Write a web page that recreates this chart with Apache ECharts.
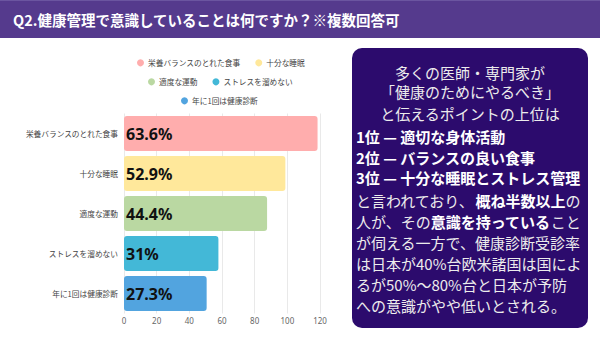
<!DOCTYPE html>
<html><head><meta charset="utf-8">
<script src="https://cdn.jsdelivr.net/npm/echarts@6/dist/echarts.min.js"></script>
<style>html,body{margin:0;padding:0;background:#fff}#c{width:600px;height:338px}</style>
</head><body><div id="c"></div>
<script>
const categories = ['栄養バランスのとれた食事','十分な睡眠','適度な運動','ストレスを溜めない','年に1回は健康診断'];
const barValues = [118.5, 98.8, 87.6, 57.8, 50.6];
const percentLabels = ['63.6%','52.9%','44.4%','31%','27.3%'];
const colors = ['#FFADAD','#FFE89B','#BAD8A2','#43B8D7','#52A4DF'];
const xTicks = [0,20,40,60,80,100,120];
const titleText = 'Q2.健康管理で意識していることは何ですか？※複数回答可';
const boxCenterLines = ['多くの医師・専門家が','「健康のためにやるべき」','と伝えるポイントの上位は'];
const boxRankLines = ['1位 — 適切な身体活動','2位 — バランスの良い食事','3位 — 十分な睡眠とストレス管理'];
const boxBodyLines = [
  [['n','と言われており、'],['b','概ね半数以上'],['n','の']],
  [['n','人が、その'],['b','意識を持っている'],['n','こと']],
  [['n','が伺える一方で、健康診断受診率']],
  [['n','は日本が40%台欧米諸国は国によ']],
  [['n','るが50%〜80%台と日本が予防']],
  [['n','への意識がやや低いとされる。']]
];

const FONT = '"Noto Sans CJK JP","Noto Sans",sans-serif';
const chart = echarts.init(document.getElementById('c'), null, {renderer:'svg'});

const series = categories.map((name,i)=>({
  name, type:'bar', stack:'t', barWidth:35,
  itemStyle:{color:colors[i], borderRadius:3},
  label:{show:true, position:'insideLeft', distance:2,
    formatter:()=>percentLabels[i],
    fontSize:16, fontWeight:'bold', color:'#111', fontFamily:'"Noto Sans",sans-serif'},
  data: categories.map((c,j)=> j===i ? barValues[i] : '-')
}));

const legendBase = {icon:'circle', itemWidth:7, itemHeight:7, itemGap:15,
  textStyle:{fontSize:7.7, color:'#444', fontFamily:FONT, padding:[0,0,0,-1]}, padding:0};

const graphics = [
  {type:'rect', shape:{x:0,y:0,width:600,height:38}, style:{fill:'#553A8D'}},
  {type:'rect', shape:{x:0,y:0,width:600,height:1}, style:{fill:'#6B55A0'}},
  {type:'text', x:13, y:19, style:{text:titleText, fill:'#fff', font:'bold 14.5px '+FONT, textVerticalAlign:'middle'}},
  {type:'rect', shape:{x:352,y:48,width:236,height:280,r:10}, style:{fill:'#2C0B6D'}}
];
const centerYs = [72, 91.5, 113];
boxCenterLines.forEach((t,i)=>graphics.push({type:'text', x:470, y:centerYs[i],
  style:{text:t, fill:'#ececec', font:'15px '+FONT, textAlign:'center', textVerticalAlign:'middle'}}));
const rankYs = [136.7, 157, 177];
boxRankLines.forEach((t,i)=>graphics.push({type:'text', x:356, y:rankYs[i],
  style:{text:t, fill:'#fff', font:'bold 15px '+FONT, textVerticalAlign:'middle'}}));
const bodyYs = [200, 221.5, 242, 263, 284, 305];
boxBodyLines.forEach((segs,i)=>{
  graphics.push({type:'text', x:356, y:bodyYs[i], style:{
    text: segs.map(s=>'{'+s[0]+'|'+s[1]+'}').join(''),
    textVerticalAlign:'middle',
    rich:{n:{fill:'#ececec', font:'15px '+FONT}, b:{fill:'#fff', font:'bold 15px '+FONT}}
  }});
});

chart.setOption({
  animation:false,
  backgroundColor:'#fff',
  legend:[
    Object.assign({}, legendBase, {data:categories.slice(0,2), left:137, top:59}),
    Object.assign({}, legendBase, {data:categories.slice(2,4), left:148, top:78}),
    Object.assign({}, legendBase, {data:categories.slice(4), left:181, top:97})
  ],
  grid:{left:124, right:280, top:113.5, bottom:24.5, containLabel:false},
  xAxis:{type:'value', min:xTicks[0], max:xTicks[xTicks.length-1], interval:20,
    axisLine:{show:false}, axisTick:{show:false},
    splitLine:{lineStyle:{color:'#e9e9e9', width:1}},
    axisLabel:{fontSize:8, color:'#666', margin:3, fontFamily:'"Noto Sans",sans-serif'}},
  yAxis:{type:'category', data:categories, inverse:true,
    axisLine:{show:false}, axisTick:{show:false},
    axisLabel:{fontSize:7.7, color:'#444', margin:6, fontFamily:FONT}},
  series,
  graphic:graphics
});
</script></body></html>
